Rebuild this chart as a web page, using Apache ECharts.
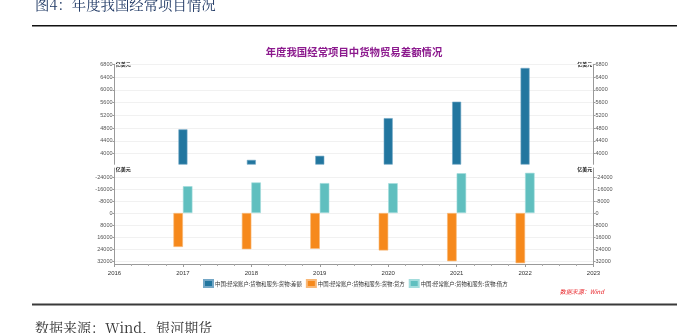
<!DOCTYPE html>
<html>
<head>
<meta charset="utf-8">
<script src="https://cdn.jsdelivr.net/npm/echarts@6/dist/echarts.min.js"></script>
<style>
html,body{margin:0;padding:0;background:#fff;}
#c{width:690px;height:333px;}
</style>
</head>
<body>
<div id="c"></div>
<script>
const years = [2017, 2018, 2019, 2020, 2021, 2022];
const balance = [4759, 3801, 3930, 5111, 5627, 6686];
const credit = [22635, 24174, 23866, 24972, 32159, 33468];
const debit = [-17876, -20373, -19936, -19861, -26532, -26782];
const topTicks = [4000, 4400, 4800, 5200, 5600, 6000, 6400, 6800];
const bottomTicks = [-24000, -16000, -8000, 0, 8000, 16000, 24000, 32000];
const xRange = [2016, 2023];
const seriesNames = ['中国:经常账户:货物和服务:货物:差额', '中国:经常账户:货物和服务:货物:贷方', '中国:经常账户:货物和服务:货物:借方'];
const unitName = '亿美元';
const chartTitle = '年度我国经常项目中货物贸易差额情况';
const figTitle = '图4：年度我国经常项目情况';
const sourceText = '数据来源：Wind';
const footText = '数据来源：Wind，银河期货';

const numFont = 'Liberation Sans';
const cjkFont = 'Noto Sans CJK SC';

function yAxisCfg(grid, pos, min, max, ticks, inverse) {
  return {
    gridIndex: grid, type: 'value', position: pos, min: min, max: max, inverse: inverse,
    axisLine: {show: true, lineStyle: {color: '#9a9a9a', width: 1}},
    axisTick: {show: true, length: 2, customValues: ticks, lineStyle: {color: '#9a9a9a'}},
    axisLabel: {customValues: ticks, fontSize: 5.5, color: '#555', fontFamily: numFont, margin: 2,
      formatter: v => String(v)},
    splitLine: {show: true, lineStyle: {color: '#f1f1f1', width: 1}}
  };
}

function unitText(x, y, align) {
  return {type: 'text', x: x, y: y,
    style: {text: unitName, fontSize: 5, fontWeight: 'bold', fill: '#111', fontFamily: cjkFont,
      align: align, verticalAlign: 'middle'}};
}

const chart = echarts.init(document.getElementById('c'), null, {renderer: 'canvas'});
const option = {
  animation: false,
  backgroundColor: '#ffffff',
  grid: [
    {left: 114.5, top: 64.3, width: 479, height: 100},
    {left: 114.5, top: 168, width: 479, height: 96}
  ],
  xAxis: [
    {gridIndex: 0, type: 'value', min: xRange[0], max: xRange[1], interval: 1, show: false},
    {gridIndex: 1, type: 'value', min: xRange[0], max: xRange[1], interval: 1,
      axisLine: {show: true, onZero: false, lineStyle: {color: '#9a9a9a', width: 1}},
      axisTick: {show: true, length: 3, lineStyle: {color: '#9a9a9a'}},
      minorTick: {show: true, splitNumber: 4, length: 2, lineStyle: {color: '#aaaaaa'}},
      axisLabel: {fontSize: 6, color: '#333', fontFamily: numFont, margin: 6, formatter: v => String(v)},
      splitLine: {show: false}}
  ],
  yAxis: [
    yAxisCfg(0, 'left', 3663, 6800, topTicks, false),
    yAxisCfg(0, 'right', 3663, 6800, topTicks, false),
    yAxisCfg(1, 'left', -30000, 34000, bottomTicks, true),
    yAxisCfg(1, 'right', -30000, 34000, bottomTicks, true)
  ],
  legend: {
    left: 203, top: 279, itemWidth: 9, itemHeight: 7, itemGap: 4, padding: 0,
    icon: 'rect',
    textStyle: {fontSize: 5.4, color: '#333', fontFamily: cjkFont, padding: [0, 0, 0, -3]},
    data: seriesNames
  },
  series: [
    {name: seriesNames[0], type: 'bar', xAxisIndex: 0, yAxisIndex: 0, barWidth: 9,
      itemStyle: {color: '#22769f', borderColor: '#74a7c6', borderWidth: 0.6},
      data: years.map((y, i) => [y, balance[i]])},
    {name: seriesNames[1], type: 'bar', xAxisIndex: 1, yAxisIndex: 2, barWidth: 9.5, barGap: '0%',
      itemStyle: {color: '#f6891c', borderColor: '#f9b877', borderWidth: 0.6},
      data: years.map((y, i) => [y, credit[i]])},
    {name: seriesNames[2], type: 'bar', xAxisIndex: 1, yAxisIndex: 2, barWidth: 9.5, barGap: '0%',
      itemStyle: {color: '#60bfbf', borderColor: '#a3dcdc', borderWidth: 0.6},
      data: years.map((y, i) => [y, debit[i]])}
  ],
  graphic: [
    {type: 'text', left: 35, top: -3,
      style: {text: figTitle, fontSize: 14.4, fill: '#1f3864', fontFamily: 'Noto Serif CJK SC, ' + cjkFont}},
    {type: 'line', shape: {x1: 32, y1: 25.7, x2: 677, y2: 25.7}, style: {stroke: '#111', lineWidth: 1.4}},
    {type: 'text', x: 354, y: 51.7,
      style: {text: chartTitle, fontSize: 10.4, fontWeight: 'bold', fill: '#8c1a8e', fontFamily: cjkFont,
        align: 'center', verticalAlign: 'middle'}},
    unitText(115.8, 64.5, 'left'),
    unitText(592.2, 64.5, 'right'),
    unitText(115.8, 169, 'left'),
    unitText(592.2, 169, 'right'),
    {type: 'text', x: 604, y: 292,
      style: {text: sourceText, fontSize: 6, fontStyle: 'italic', fill: '#e8262b', fontFamily: cjkFont,
        align: 'right', verticalAlign: 'middle'}},
    {type: 'line', shape: {x1: 32, y1: 304.5, x2: 677, y2: 304.5}, style: {stroke: '#3a3a3a', lineWidth: 2}},
    {type: 'text', left: 35, top: 321,
      style: {text: footText, fontSize: 14, fill: '#333', fontFamily: 'Noto Serif CJK SC, ' + cjkFont}}
  ]
};
chart.setOption(option);
</script>
</body>
</html>
